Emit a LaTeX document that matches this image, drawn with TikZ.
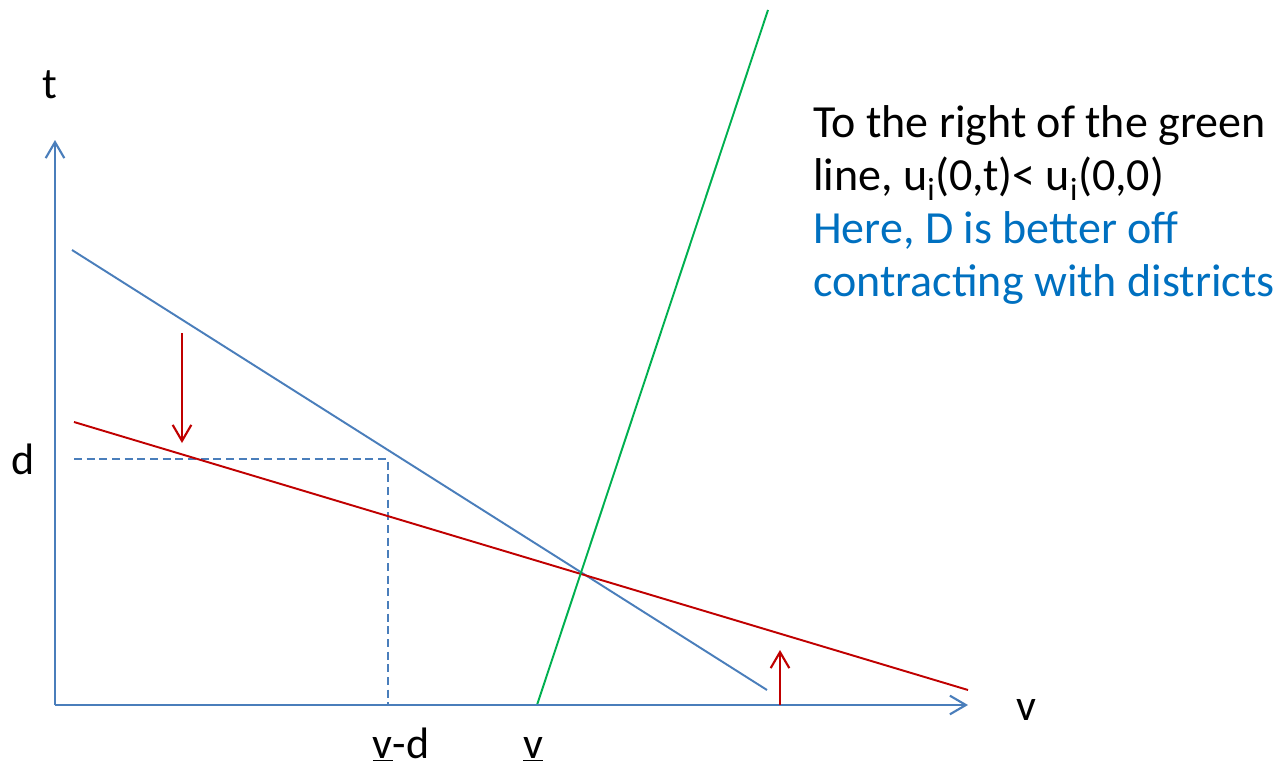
\documentclass[tikz,border=0pt]{standalone}
\usepackage{fontspec}
\setmainfont{Carlito}
\usetikzlibrary{arrows.meta}
\definecolor{axisblue}{HTML}{4A7EBB}
\definecolor{curvered}{HTML}{C00000}
\definecolor{curvegreen}{HTML}{00B050}
\definecolor{noteblue}{HTML}{0070C0}

\begin{document}
\begin{tikzpicture}[
  x=0.75pt,y=-0.75pt,
  axisline/.style={-{Straight Barb[length=12pt,width=14pt]},line width=1.6pt,draw=axisblue},
  demandline/.style={line width=1.45pt},
  shiftarrow/.style={-{Straight Barb[length=12pt,width=14pt]},line width=1.6pt,draw=curvered},
  guideline/.style={line width=1pt,draw=axisblue,dash pattern=on 6pt off 3.5pt},
  lab/.style={font=\fontsize{33}{39.75}\selectfont,inner sep=0pt},
  notelab/.style={font=\fontsize{34.5}{39.75}\selectfont,inner sep=0pt,align=left}
]
\useasboundingbox (0,0) rectangle (1283,771);
\coordinate (origin) at (55,705);
\coordinate (ttop) at (55,140);
\coordinate (vend) at (968,705);
\coordinate (bluestart) at (72,250);
\coordinate (blueend) at (767,690);
\coordinate (redstart) at (74,422);
\coordinate (redend) at (968,690);
\coordinate (greenfoot) at (537,705);
\coordinate (greentop) at (768,10);
\coordinate (dleft) at (74,459);
\coordinate (dcorner) at (388,459);
\coordinate (dfoot) at (388,705);
\coordinate (downfrom) at (182,333);
\coordinate (downto) at (182,443);
\coordinate (upfrom) at (780,705);
\coordinate (upto) at (780,650);
\draw[guideline] (dleft)--(dcorner)--(dfoot);
\draw[demandline,draw=axisblue] (bluestart)--(blueend);
\draw[demandline,draw=curvered] (redstart)--(redend);
\draw[demandline,draw=curvegreen] (greenfoot)--(greentop);
\draw[axisline] (origin)--(ttop);
\draw[axisline] (origin)--(vend);
\draw[shiftarrow] (downfrom)--(downto);
\draw[shiftarrow] (upfrom)--(upto);
\node[lab,anchor=base] (tlab) at (50,98) {t};
\node[lab,anchor=base] (vlab) at (1026,720) {v};
\node[lab,anchor=base] (dlab) at (23,474) {d};
\node[lab,anchor=base] (vdlab) at (401,758) {\underline{v}-d};
\node[lab,anchor=base] (vlowlab) at (533,758) {\underline{v}};
\node[notelab,anchor=base west] (note) at (813,296) {To the right of the green\\line, u\textsubscript{i}(0,t)< u\textsubscript{i}(0,0)\\\textcolor{noteblue}{Here, D is better off}\\\textcolor{noteblue}{contracting with districts}};
\end{tikzpicture}
\end{document}
